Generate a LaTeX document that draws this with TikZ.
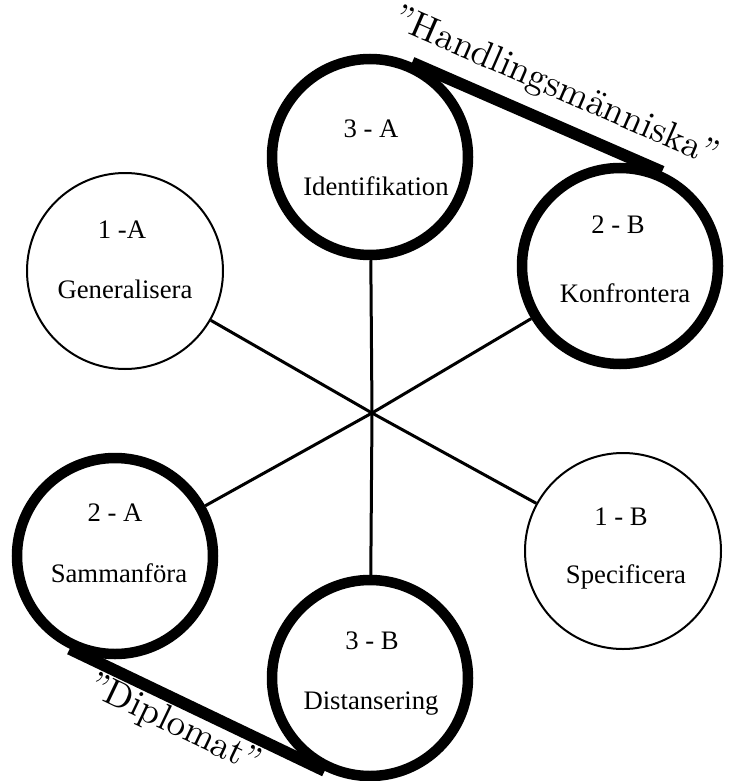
\documentclass[tikz,border=0pt]{standalone}
\usepackage{fontspec}
\usepackage{tikz}
\newfontfamily\timesfont{Liberation Serif}
\newfontfamily\tagfont[Ligatures=TeX]{lmroman10-regular.otf}

\begin{document}
\begin{tikzpicture}[x=1pt,y=1pt]
\tikzset{ring/.style={circle, draw, minimum size=196pt, inner sep=0pt},
  thin ring/.style={ring, line width=2pt},
  bold ring/.style={ring, line width=10.5pt},
  spoke/.style={line width=3pt},
  band/.style={line width=12pt},
  lbl/.style={font=\timesfont\fontsize{26.7}{32}\selectfont, anchor=base, inner sep=0pt},
  tag/.style={font=\tagfont\fontsize{37}{44}\selectfont, sloped}}
\useasboundingbox (0,0) rectangle (738,-781);
\coordinate (hub) at (372,-413);
% circles
\node[bold ring] (idf) at (370,-157) {};
\node[bold ring] (konf) at (620,-266) {};
\node[thin ring] (gen) at (125,-271) {};
\node[bold ring] (samm) at (115,-556) {};
\node[thin ring] (spec) at (623,-551) {};
\node[bold ring] (dist) at (370,-678) {};
% labels
\node[lbl] (idf-n) at (371,-138) {3 - A};
\node[lbl] (idf-t) at (376,-195) {Identifikation};
\node[lbl] (konf-n) at (618,-233) {2 - B};
\node[lbl] (konf-t) at (625,-302) {Konfrontera};
\node[lbl] (gen-n) at (122,-238) {1 -A};
\node[lbl] (gen-t) at (125,-298) {Generalisera};
\node[lbl] (samm-n) at (115,-521) {2 - A};
\node[lbl] (samm-t) at (119,-582) {Sammanföra};
\node[lbl] (spec-n) at (621,-525) {1 - B};
\node[lbl] (spec-t) at (626,-583) {Specificera};
\node[lbl] (dist-n) at (372,-649) {3 - B};
\node[lbl] (dist-t) at (371,-709) {Distansering};
% spokes
\draw[spoke] (hub) -- (idf);
\draw[spoke] (hub) -- (konf);
\draw[spoke] (hub) -- (gen);
\draw[spoke] (hub) -- (samm);
\draw[spoke] (hub) -- (spec);
\draw[spoke] (hub) -- (dist);
% bands
\draw[band] (idf.66) -- node[tag, above=8pt, pos=0.52] (handl) {''Handlingsmänniska''} (konf.66);
\draw[band] (samm.244) -- node[tag, below=-2pt, pos=0.45] (dipl) {''Diplomat''} (dist.244);
\end{tikzpicture}
\end{document}
